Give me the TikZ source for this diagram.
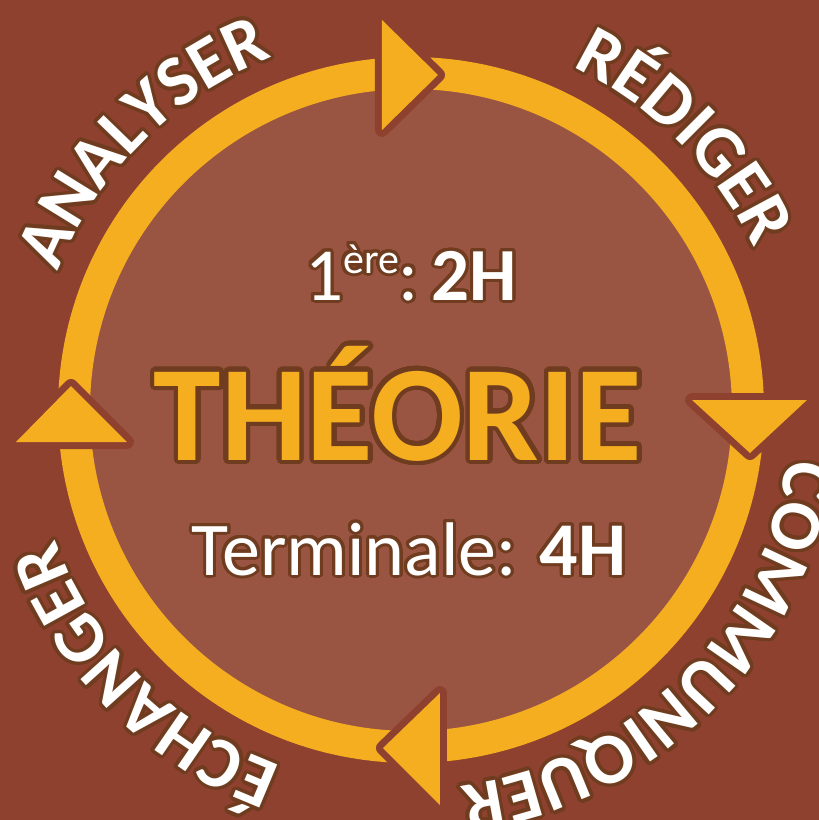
\documentclass[tikz,border=0pt]{standalone}
\usepackage{fontspec}
\setmainfont{Carlito}
\usepackage{contour}
\usetikzlibrary{decorations.text}
\definecolor{bg}{RGB}{142,65,47}
\definecolor{innerc}{RGB}{154,85,66}
\definecolor{ringc}{RGB}{245,174,32}
\definecolor{outl}{RGB}{112,60,31}
\contournumber{32}
\newcommand\ringfont{\bfseries\fontsize{72}{72}\selectfont}
\newcommand\ringword[3]{%
  \foreach \a in {0,20,...,340}{%
    \begin{scope}[shift={(\a:3.5pt)}]
    \path[decorate,
      decoration={text along path, text align=center, text={|\ringfont\color{outl}|#3}}]
      (#1:379) arc[start angle=#1, end angle=#2, radius=379];
    \end{scope}}
  \path[decorate, decoration={text along path, text align=center, text={|\ringfont\color{white}|#3}}]
      (#1:379) arc[start angle=#1, end angle=#2, radius=379];
}
\tikzset{
  arrowout/.style={draw=bg, line width=14pt, line join=round, fill=ringc},
  arrowfill/.style={fill=ringc},
  ring/.style={draw=ringc, line width=32pt}
}
\begin{document}
\begin{tikzpicture}[x=1pt,y=1pt]
\fill[bg] (-411,-410) rectangle (408,410);
\useasboundingbox (-411,-410) rectangle (408,410);
\fill[innerc] (0,0) circle[radius=325];
\draw[ring] (0,0) circle[radius=337];
% arrow heads
\draw[arrowout] (-29,390) -- (-29,280) -- (27,335) -- cycle;
\fill[arrowfill] (-29,390) -- (-29,280) -- (27,335) -- cycle;
\draw[arrowout] (281,10) -- (396,10) -- (339,-43) -- cycle;
\fill[arrowfill] (281,10) -- (396,10) -- (339,-43) -- cycle;
\draw[arrowout] (29,-283) -- (29,-395) -- (-28,-338) -- cycle;
\fill[arrowfill] (29,-283) -- (29,-395) -- (-28,-338) -- cycle;
\draw[arrowout] (-395,-32) -- (-284,-32) -- (-340,24) -- cycle;
\fill[arrowfill] (-395,-32) -- (-284,-32) -- (-340,24) -- cycle;
% ring words
\ringword{180}{90}{ANALYSER}
\ringword{90}{0}{RÉDIGER}
\ringword{0}{-90}{COMMUNIQUER}
\ringword{-90}{-180}{ÉCHANGER}
% centre texts
\contourlength{3pt}
\node[anchor=base, text=white, inner sep=0pt] (first) at (0,110)
  {\contour{outl}{\fontsize{75}{75}\selectfont 1\raisebox{27pt}{\fontsize{42}{42}\selectfont ère}:\,\textbf{2H}}};
\node[anchor=base, text=white, inner sep=0pt] (term) at (-2,-165)
  {\contour{outl}{\fontsize{76}{76}\selectfont Terminale: \textbf{4H}}};
\contourlength{4.5pt}
\node[anchor=base, text=ringc, inner sep=0pt] (theo) at (-13,-50)
  {\contour{outl}{\bfseries\fontsize{136}{136}\selectfont THÉORIE}};
\end{tikzpicture}
\end{document}
